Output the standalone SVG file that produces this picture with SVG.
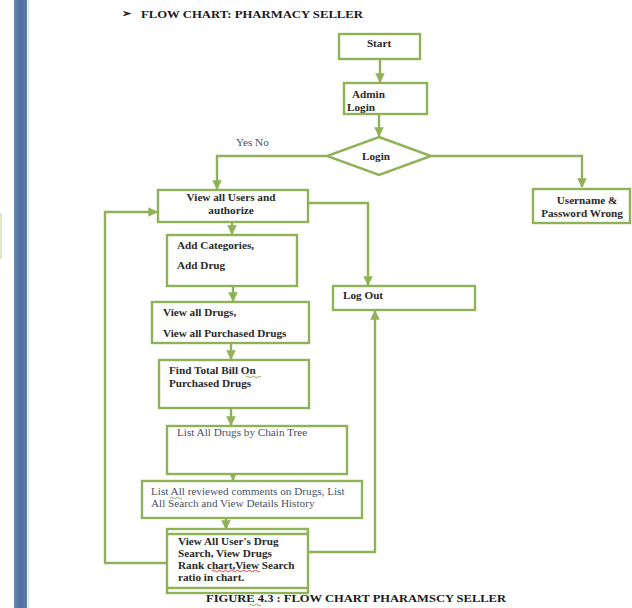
<svg xmlns="http://www.w3.org/2000/svg" width="632" height="608" viewBox="0 0 632 608">
  <defs>
    <marker id="arrow" viewBox="0 0 10 10" refX="9" refY="5" markerWidth="4" markerHeight="4" orient="auto" markerUnits="strokeWidth">
      <path d="M0,0 L10,5 L0,10 z" fill="#8fb257"/>
    </marker>
    <linearGradient id="bar" x1="0" y1="0" x2="1" y2="0">
      <stop offset="0" stop-color="#6b86b0"/>
      <stop offset="0.5" stop-color="#4f6fa2"/>
      <stop offset="1" stop-color="#5d7aa8"/>
    </linearGradient>
  </defs>
  <style>
    .box { fill: #ffffff; stroke: #8fb257; stroke-width: 2.4; }
    .wire { fill: none; stroke: #8fb257; stroke-width: 2.4; }
    .arr { marker-end: url(#arrow); }
    .t { font-family: "Liberation Serif", "Times New Roman", serif; font-size: 11.2px; font-weight: bold; fill: #2a2a2a; }
    .r { font-family: "Liberation Serif", "Times New Roman", serif; font-size: 11.2px; fill: #4a5266; }
    .c { text-anchor: middle; }
    .head { font-family: "Liberation Serif", "Times New Roman", serif; font-size: 11px; font-weight: bold; fill: #1a1a1a; }
    .sq { fill: none; stroke-width: 0.9; }
  </style>

  <rect width="632" height="608" fill="#ffffff"/>

  <!-- page margin bar -->
  <rect x="14" y="0" width="13" height="608" fill="url(#bar)"/>
  <line x1="28.5" y1="0" x2="28.5" y2="608" stroke="#d8dbe0" stroke-width="1"/>
  <rect x="-10" y="214" width="11" height="44" fill="none" stroke="#d3e0b4" stroke-width="1.5"/>

  <!-- heading -->
  <text class="head" x="122" y="17" font-size="8">&#x27A2;</text>
  <text class="head" x="141" y="18" textLength="222" lengthAdjust="spacingAndGlyphs">FLOW CHART: PHARMACY SELLER</text>

  <!-- connectors -->
  <g id="connectors">
    <path class="wire arr" d="M380,59 V82"/>
    <path class="wire arr" d="M379,114 V136"/>
    <path class="wire arr" d="M327,156 H217 V189"/>
    <path class="wire arr" d="M431,156 H582 V187"/>
    <path class="wire arr" d="M232,222 V234"/>
    <path class="wire arr" d="M308,203 H368 V285"/>
    <path class="wire arr" d="M233,278 V301"/>
    <path class="wire arr" d="M231,343 V359"/>
    <path class="wire arr" d="M231,408 V425"/>
    <path class="wire arr" d="M233,465 V480"/>
    <path class="wire arr" d="M226,516 V529"/>
    <path class="wire arr" d="M167,563 H105 V212 H157"/>
    <path class="wire arr" d="M308,552 H375 V311"/>
  </g>

  <g id="start">
    <rect class="box" x="339" y="34" width="81" height="25"/>
    <text class="t c" x="379" y="47">Start</text>
  </g>

  <g id="admin-login">
    <rect class="box" x="344" y="83" width="83" height="31"/>
    <text class="t" x="352" y="98">Admin</text>
    <text class="t" x="347" y="111">Login</text>
  </g>

  <g id="login-decision">
    <polygon class="box" points="379,137 431,156 379,175 327,156"/>
    <text class="t c" x="376" y="160">Login</text>
    <text class="r" x="236" y="146" font-size="9.5">Yes No</text>
  </g>

  <g id="wrong-credentials">
    <rect class="box" x="533" y="189" width="97" height="34"/>
    <text class="t c" x="587" y="204">Username &amp;</text>
    <text class="t c" x="582" y="217">Password Wrong</text>
  </g>

  <g id="view-users">
    <rect class="box" x="158" y="190" width="150" height="32"/>
    <text class="t c" x="231" y="201">View all Users and</text>
    <text class="t c" x="231" y="214">authorize</text>
  </g>

  <g id="add-categories">
    <rect class="box" x="167" y="235" width="130" height="51"/>
    <text class="t" x="177" y="249">Add Categories,</text>
    <text class="t" x="177" y="269">Add Drug</text>
  </g>

  <g id="view-drugs">
    <rect class="box" x="152" y="302" width="157" height="41"/>
    <text class="t" x="163" y="316">View all Drugs,</text>
    <text class="t" x="163" y="337">View all Purchased Drugs</text>
  </g>

  <g id="total-bill">
    <rect class="box" x="159" y="360" width="150" height="48"/>
    <text class="t" x="169" y="374">Find Total Bill On</text>
    <text class="t" x="169" y="387">Purchased Drugs</text>
    <path class="sq" stroke="#7aa83c" d="M246,377 q1.5,-1.5 3,0 t3,0 t3,0 t3,0 t3,0"/>
  </g>

  <g id="logout">
    <rect class="box" x="333" y="286" width="142" height="24"/>
    <text class="t" x="343" y="299">Log Out</text>
  </g>

  <g id="chain-tree">
    <rect class="box" x="167" y="426" width="180" height="48"/>
    <text class="r" x="177" y="436">List All Drugs by Chain Tree</text>
  </g>

  <g id="reviewed-comments">
    <rect class="box" x="142" y="481" width="220" height="37"/>
    <text class="r" x="151" y="495">List All reviewed comments on Drugs, List</text>
    <text class="r" x="151" y="507">All Search and View Details History</text>
    <path class="sq" stroke="#7aa83c" d="M170,498 q1.5,-1.5 3,0 t3,0 t3,0 t3,0"/>
  </g>

  <g id="search-ratio">
    <rect class="box" x="167" y="529" width="141" height="64"/>
    <line class="wire" x1="167" y1="534" x2="308" y2="534"/>
    <line class="wire" x1="167" y1="588" x2="308" y2="588"/>
    <text class="t" x="178" y="545">View All User's Drug</text>
    <text class="t" x="178" y="557">Search, View Drugs</text>
    <text class="t" x="178" y="569">Rank chart,View Search</text>
    <text class="t" x="178" y="581">ratio in chart.</text>
    <path class="sq" stroke="#d03030" d="M212,571 q1.5,-1.5 3,0 t3,0 t3,0 t3,0 t3,0 t3,0 t3,0 t3,0 t3,0 t3,0 t3,0 t3,0 t3,0 t3,0 t3,0 t3,0"/>
  </g>

  <!-- caption -->
  <text class="head" x="206" y="602" font-size="11.5" textLength="300" lengthAdjust="spacingAndGlyphs">FIGURE 4.3 : FLOW CHART PHARAMSCY SELLER</text>
  <path class="sq" stroke="#7aa83c" d="M249,605 q1.5,-1.5 3,0 t3,0 t3,0 t3,0"/>
</svg>
